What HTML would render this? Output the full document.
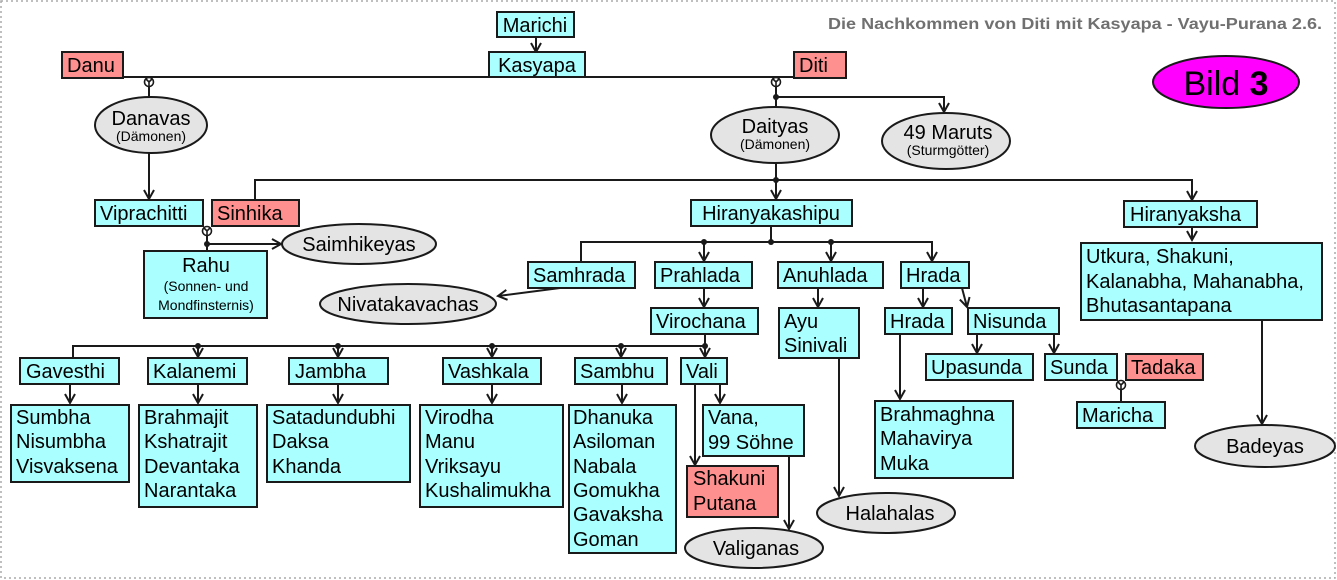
<!DOCTYPE html>
<html><head><meta charset="utf-8"><style>
html,body{margin:0;padding:0;background:#fff;}
svg{display:block;}
svg text{font-family:"Liberation Sans",Arial,Helvetica,sans-serif;}
.c{fill:#aaffff;stroke:#1a1a1a;stroke-width:2;}
.r{fill:#ff9090;stroke:#1a1a1a;stroke-width:2;}
.e{fill:#e4e4e4;stroke:#1a1a1a;stroke-width:2;}
.l{fill:none;stroke:#1a1a1a;stroke-width:2;}
.t{font-size:20px;fill:#000;}
.s{font-size:14px;fill:#000;}
</style></head><body>
<svg width="1337" height="580" viewBox="0 0 1337 580" xmlns="http://www.w3.org/2000/svg" font-family="Liberation Sans, Arial, sans-serif">
<defs>
<marker id="a" markerWidth="14" markerHeight="14" refX="11" refY="6" orient="auto" markerUnits="userSpaceOnUse">
<polyline points="2,1 11,6 2,11" fill="none" stroke="#1a1a1a" stroke-width="2"/>
</marker>
<g id="m"><circle cx="0" cy="0" r="4.5" fill="#fff" stroke="#1a1a1a" stroke-width="1.6"/><path d="M-3,-3 L0,0 L3,-3 M0,0 L0,4.5" stroke="#1a1a1a" stroke-width="1.6" fill="none"/></g>
</defs>
<rect x="1" y="1" width="1334" height="577" fill="none" stroke="#aaa" stroke-width="1.5" stroke-dasharray="2,3"/>
<text x="828" y="29" font-size="15.5" font-weight="bold" fill="#707070" textLength="494" lengthAdjust="spacingAndGlyphs">Die Nachkommen von Diti mit Kasyapa - Vayu-Purana 2.6.</text>
<ellipse cx="1226" cy="82" rx="73" ry="26" fill="#ff00ff" stroke="#1a1a1a" stroke-width="2"/>
<text x="1226" y="95" text-anchor="middle" font-size="34">Bild <tspan font-weight="bold">3</tspan></text>

<line class="l" x1="123" y1="77" x2="794" y2="77"/>
<line class="l" x1="536" y1="37" x2="536" y2="52" marker-end="url(#a)"/>
<rect class="c" x="497" y="12" width="77" height="25"/><text class="t" x="535" y="32" text-anchor="middle">Marichi</text>
<rect class="c" x="489" y="52" width="96" height="25"/><text class="t" x="537" y="72" text-anchor="middle">Kasyapa</text>
<rect class="r" x="62" y="52" width="61" height="26"/><text class="t" x="67" y="72">Danu</text>
<rect class="r" x="794" y="52" width="52" height="26"/><text class="t" x="799" y="72">Diti</text>

<line class="l" x1="149" y1="82" x2="149" y2="98"/>
<use href="#m" x="149" y="82"/>
<ellipse class="e" cx="151" cy="125" rx="56" ry="28"/>
<text class="t" x="151" y="125" text-anchor="middle">Danavas</text>
<text class="s" x="151" y="141" text-anchor="middle">(Dämonen)</text>
<line class="l" x1="149" y1="153" x2="149" y2="199" marker-end="url(#a)"/>

<line class="l" x1="776" y1="82" x2="776" y2="108"/>
<use href="#m" x="776" y="82"/>
<circle cx="776" cy="97" r="3" fill="#1a1a1a"/>
<polyline class="l" points="776,97 944,97 944,112" marker-end="url(#a)"/>
<ellipse class="e" cx="775" cy="135" rx="64" ry="28"/>
<text class="t" x="775" y="133" text-anchor="middle">Daityas</text>
<text class="s" x="775" y="149" text-anchor="middle">(Dämonen)</text>
<ellipse class="e" cx="946" cy="141" rx="64" ry="28"/>
<text class="t" x="948" y="139" text-anchor="middle">49 Maruts</text>
<text class="s" x="948" y="155" text-anchor="middle">(Sturmgötter)</text>

<line class="l" x1="776" y1="163" x2="776" y2="199" marker-end="url(#a)"/>
<circle cx="776" cy="180" r="3" fill="#1a1a1a"/>
<polyline class="l" points="255,199 255,180 1192,180 1192,200" marker-end="url(#a)"/>

<rect class="c" x="95" y="200" width="108" height="26"/><text class="t" x="100" y="220">Viprachitti</text>
<rect class="r" x="212" y="200" width="87" height="26"/><text class="t" x="217" y="220">Sinhika</text>
<rect class="c" x="691" y="200" width="161" height="26"/><text class="t" x="771" y="220" text-anchor="middle">Hiranyakashipu</text>
<rect class="c" x="1124" y="201" width="133" height="26"/><text class="t" x="1130" y="221">Hiranyaksha</text>

<line class="l" x1="207" y1="231" x2="207" y2="251"/>
<use href="#m" x="207" y="231"/>
<circle cx="207" cy="244" r="3" fill="#1a1a1a"/>
<line class="l" x1="207" y1="244" x2="281" y2="244" marker-end="url(#a)"/>
<ellipse class="e" cx="359" cy="244" rx="77" ry="20"/>
<text class="t" x="359" y="251" text-anchor="middle">Saimhikeyas</text>
<rect class="c" x="144" y="251" width="123" height="67"/>
<text class="t" x="206" y="272" text-anchor="middle">Rahu</text>
<text class="s" x="206" y="291" text-anchor="middle">(Sonnen- und</text>
<text class="s" x="206" y="310" text-anchor="middle">Mondfinsternis)</text>

<line class="l" x1="1192" y1="227" x2="1192" y2="240" marker-end="url(#a)"/>
<rect class="c" x="1081" y="243" width="241" height="77"/>
<text class="t" x="1086" y="263">Utkura, Shakuni,</text>
<text class="t" x="1086" y="288">Kalanabha, Mahanabha,</text>
<text class="t" x="1086" y="312">Bhutasantapana</text>
<line class="l" x1="1262" y1="320" x2="1262" y2="424" marker-end="url(#a)"/>
<ellipse class="e" cx="1265" cy="446" rx="70" ry="21"/>
<text class="t" x="1265" y="453" text-anchor="middle">Badeyas</text>

<line class="l" x1="771" y1="226" x2="771" y2="242"/>
<circle cx="771" cy="242" r="3" fill="#1a1a1a"/>
<polyline class="l" points="581,261 581,242 932,242 932,261" marker-end="url(#a)"/>
<line class="l" x1="704" y1="242" x2="704" y2="261" marker-end="url(#a)"/>
<circle cx="704" cy="242" r="3" fill="#1a1a1a"/>
<line class="l" x1="831" y1="242" x2="831" y2="261" marker-end="url(#a)"/>
<circle cx="831" cy="242" r="3" fill="#1a1a1a"/>
<rect class="c" x="528" y="262" width="107" height="26"/><text class="t" x="533" y="282">Samhrada</text>
<rect class="c" x="655" y="262" width="97" height="26"/><text class="t" x="660" y="282">Prahlada</text>
<rect class="c" x="778" y="262" width="105" height="26"/><text class="t" x="783" y="282">Anuhlada</text>
<rect class="c" x="901" y="262" width="68" height="26"/><text class="t" x="906" y="282">Hrada</text>

<line class="l" x1="560" y1="288" x2="498" y2="296" marker-end="url(#a)"/>
<ellipse class="e" cx="408" cy="304" rx="88" ry="20"/>
<text class="t" x="408" y="311" text-anchor="middle">Nivatakavachas</text>

<line class="l" x1="704" y1="288" x2="704" y2="307" marker-end="url(#a)"/>
<rect class="c" x="651" y="308" width="107" height="26"/><text class="t" x="656" y="328">Virochana</text>

<line class="l" x1="818" y1="288" x2="818" y2="307" marker-end="url(#a)"/>
<rect class="c" x="779" y="308" width="80" height="50"/>
<text class="t" x="784" y="328">Ayu</text><text class="t" x="784" y="352">Sinivali</text>
<line class="l" x1="839" y1="358" x2="839" y2="496" marker-end="url(#a)"/>
<ellipse class="e" cx="886" cy="513" rx="69" ry="20"/>
<text class="t" x="890" y="520" text-anchor="middle">Halahalas</text>

<line class="l" x1="923" y1="288" x2="923" y2="307" marker-end="url(#a)"/>
<line class="l" x1="962" y1="288" x2="967" y2="307" marker-end="url(#a)"/>
<rect class="c" x="885" y="308" width="67" height="26"/><text class="t" x="890" y="328">Hrada</text>
<rect class="c" x="968" y="308" width="91" height="26"/><text class="t" x="973" y="328">Nisunda</text>
<line class="l" x1="900" y1="334" x2="900" y2="399" marker-end="url(#a)"/>
<rect class="c" x="875" y="401" width="138" height="77"/>
<text class="t" x="880" y="421">Brahmaghna</text><text class="t" x="880" y="445">Mahavirya</text><text class="t" x="880" y="470">Muka</text>
<line class="l" x1="977" y1="334" x2="977" y2="353" marker-end="url(#a)"/>
<line class="l" x1="1054" y1="334" x2="1054" y2="353" marker-end="url(#a)"/>
<rect class="c" x="926" y="354" width="107" height="26"/><text class="t" x="931" y="374">Upasunda</text>
<rect class="c" x="1045" y="354" width="72" height="26"/><text class="t" x="1050" y="374">Sunda</text>
<rect class="r" x="1126" y="354" width="77" height="26"/><text class="t" x="1131" y="374">Tadaka</text>
<line class="l" x1="1121" y1="385" x2="1121" y2="402"/>
<use href="#m" x="1121" y="385"/>
<rect class="c" x="1077" y="402" width="88" height="26"/><text class="t" x="1082" y="422">Maricha</text>

<line class="l" x1="705" y1="334" x2="705" y2="357" marker-end="url(#a)"/>
<circle cx="705" cy="346" r="3" fill="#1a1a1a"/>
<polyline class="l" points="73,357 73,346 705,346"/>
<line class="l" x1="198" y1="346" x2="198" y2="357" marker-end="url(#a)"/><circle cx="198" cy="346" r="3" fill="#1a1a1a"/>
<line class="l" x1="338" y1="346" x2="338" y2="357" marker-end="url(#a)"/><circle cx="338" cy="346" r="3" fill="#1a1a1a"/>
<line class="l" x1="492" y1="346" x2="492" y2="357" marker-end="url(#a)"/><circle cx="492" cy="346" r="3" fill="#1a1a1a"/>
<line class="l" x1="621" y1="346" x2="621" y2="357" marker-end="url(#a)"/><circle cx="621" cy="346" r="3" fill="#1a1a1a"/>

<rect class="c" x="20" y="358" width="99" height="26"/><text class="t" x="26" y="378">Gavesthi</text>
<rect class="c" x="148" y="358" width="99" height="26"/><text class="t" x="153" y="378">Kalanemi</text>
<rect class="c" x="289" y="358" width="99" height="26"/><text class="t" x="295" y="378">Jambha</text>
<rect class="c" x="443" y="358" width="98" height="26"/><text class="t" x="448" y="378">Vashkala</text>
<rect class="c" x="575" y="358" width="92" height="26"/><text class="t" x="580" y="378">Sambhu</text>
<rect class="c" x="681" y="358" width="46" height="26"/><text class="t" x="686" y="378">Vali</text>

<line class="l" x1="70" y1="384" x2="70" y2="403" marker-end="url(#a)"/>
<line class="l" x1="198" y1="384" x2="198" y2="403" marker-end="url(#a)"/>
<line class="l" x1="338" y1="384" x2="338" y2="403" marker-end="url(#a)"/>
<line class="l" x1="492" y1="384" x2="492" y2="403" marker-end="url(#a)"/>
<line class="l" x1="622" y1="384" x2="622" y2="403" marker-end="url(#a)"/>
<line class="l" x1="720" y1="384" x2="720" y2="403" marker-end="url(#a)"/>
<line class="l" x1="695" y1="384" x2="695" y2="465" marker-end="url(#a)"/>

<rect class="c" x="11" y="405" width="118" height="77"/>
<text class="t" x="16" y="424">Sumbha</text><text class="t" x="16" y="448">Nisumbha</text><text class="t" x="16" y="473">Visvaksena</text>
<rect class="c" x="139" y="405" width="118" height="102"/>
<text class="t" x="144" y="424">Brahmajit</text><text class="t" x="144" y="448">Kshatrajit</text><text class="t" x="144" y="473">Devantaka</text><text class="t" x="144" y="497">Narantaka</text>
<rect class="c" x="267" y="405" width="143" height="77"/>
<text class="t" x="272" y="424">Satadundubhi</text><text class="t" x="272" y="448">Daksa</text><text class="t" x="272" y="473">Khanda</text>
<rect class="c" x="420" y="405" width="143" height="102"/>
<text class="t" x="425" y="424">Virodha</text><text class="t" x="425" y="448">Manu</text><text class="t" x="425" y="473">Vriksayu</text><text class="t" x="425" y="497">Kushalimukha</text>
<rect class="c" x="569" y="405" width="107" height="148"/>
<text class="t" x="573" y="424">Dhanuka</text><text class="t" x="573" y="448">Asiloman</text><text class="t" x="573" y="473">Nabala</text><text class="t" x="573" y="497">Gomukha</text><text class="t" x="573" y="521">Gavaksha</text><text class="t" x="573" y="546">Goman</text>
<rect class="c" x="703" y="405" width="101" height="51"/>
<text class="t" x="708" y="424">Vana,</text><text class="t" x="708" y="449">99 Söhne</text>
<rect class="r" x="687" y="466" width="91" height="51"/>
<text class="t" x="693" y="485">Shakuni</text><text class="t" x="693" y="510">Putana</text>
<line class="l" x1="789" y1="456" x2="789" y2="529" marker-end="url(#a)"/>
<ellipse class="e" cx="754" cy="548" rx="69" ry="20"/>
<text class="t" x="756" y="555" text-anchor="middle">Valiganas</text>
</svg>
</body></html>
